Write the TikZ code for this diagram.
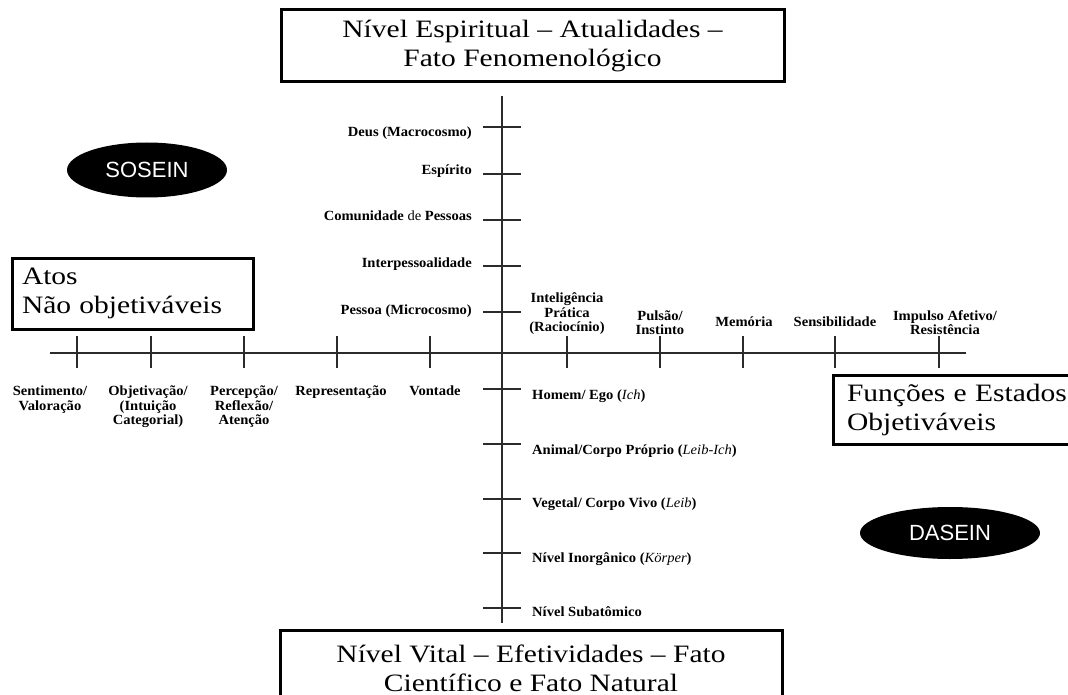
\documentclass[tikz,border=0pt]{standalone}
\usepackage{fontspec}
\setmainfont{Liberation Serif}
\newfontfamily\boxfont[FakeStretch=1.18]{Liberation Serif}
\newfontfamily\lblfont[FakeStretch=1.04]{Liberation Serif}
\newfontfamily\ovalfont{Liberation Sans}
\usepackage{tikz}
\usetikzlibrary{positioning,shapes.geometric}
\definecolor{axisgray}{HTML}{2B2B2B}
\newcommand{\IT}[1]{\textit{\mdseries #1}}

\begin{document}
\begin{tikzpicture}[x=1pt,y=-1pt,
  axis/.style={draw=axisgray, line width=1.3pt},
  lbl/.style={font=\lblfont\bfseries\fontsize{14}{14.5}\selectfont, align=center, inner sep=0pt},
  bigbox/.style={draw, line width=3pt, fill=white, inner sep=0pt,
    font=\boxfont\fontsize{25}{29}\selectfont},
  oval/.style={ellipse, fill=black, text=white, inner sep=0pt,
    font=\ovalfont\fontsize{22}{22}\selectfont}]

  \useasboundingbox (0,0) rectangle (1068,695);

  \newcommand\TickUp{17}
  \newcommand\TickLen{32}

  %% axes
  \coordinate (west) at (50,353);
  \coordinate (east) at (966,353);
  \coordinate (top) at (502,96);
  \coordinate (bottom) at (502,623);
  \draw[axis] (west) -- (east);
  \draw[axis] (top) -- (bottom);

  %% ticks on the horizontal axis
  \foreach \name/\px in {sent/77, obj/151, perc/244, repr/337, vont/430,
      intel/567, puls/660, mem/743, sens/835, imp/939}
    \coordinate (\name) at (\px,353);
  \foreach \name in {sent, obj, perc, repr, vont, intel, puls, mem, sens, imp}
    \draw[axis] (\name) ++(0,-\TickUp) -- ++(0,\TickLen);

  %% ticks on the vertical axis
  \foreach \name/\py in {deus/127, espirito/174, comun/220, inter/266, pessoa/312,
      homem/389, animal/444, vegetal/499, inorg/553, subat/608}
    \coordinate (\name) at (502,\py);
  \foreach \name in {deus, espirito, comun, inter, pessoa, homem, animal, vegetal, inorg, subat}
    \draw[axis] (\name) ++(-19,0) -- ++(38,0);

  %% acts (left, below the axis)
  \node[lbl, anchor=north] (sentL) at (50,386) {Sentimento/\\Valoração};
  \node[lbl, anchor=north] (objL) at (148,386) {Objetivação/\\(Intuição\\Categorial)};
  \node[lbl, anchor=north] (percL) at (244,386) {Percepção/\\Reflexão/\\Atenção};
  \node[lbl, anchor=north] (reprL) at (341,386) {Representação};
  \node[lbl, anchor=north] (vontL) at (435,386) {Vontade};

  %% functions (right, above the axis)
  \node[lbl, anchor=south] (intelL) at (567,335) {Inteligência\\Prática\\(Raciocínio)};
  \node[lbl, anchor=south] (pulsL) at (660,335) {Pulsão/\\Instinto};
  \node[lbl, anchor=base] (memL) at (744,326) {Memória};
  \node[lbl, anchor=base] (sensL) at (835,326) {Sensibilidade};
  \node[lbl, anchor=south] (impL) at (945,335) {Impulso Afetivo/\\Resistência};

  %% spiritual levels
  \node[lbl, anchor=base east] (deusL) at (472,137) {Deus (Macrocosmo)};
  \node[lbl, anchor=base east] (espiritoL) at (472,175) {Espírito};
  \node[lbl, anchor=base east] (comunL) at (472,221) {Comunidade {\mdseries de} Pessoas};
  \node[lbl, anchor=base east] (interL) at (472,267) {Interpessoalidade};
  \node[lbl, anchor=base east] (pessoaL) at (472,314) {Pessoa (Microcosmo)};

  %% vital levels
  \node[lbl, anchor=base west] (homemL) at (532,399) {Homem/ Ego (\IT{Ich})};
  \node[lbl, anchor=base west] (animalL) at (532,454) {Animal/Corpo Próprio (\IT{Leib-Ich})};
  \node[lbl, anchor=base west] (vegetalL) at (532,507) {Vegetal/ Corpo Vivo (\IT{Leib})};
  \node[lbl, anchor=base west] (inorgL) at (532,562) {Nível Inorgânico (\IT{Körper})};
  \node[lbl, anchor=base west] (subatL) at (532,616) {Nível Subatômico};

  %% boxes
  \node[bigbox, minimum width=503pt, minimum height=72pt, align=center]
    (espiritual) at (532.5,46) {Nível Espiritual – Atualidades –\\Fato Fenomenológico};
  \node[bigbox, minimum width=502pt, minimum height=76pt, align=center]
    (vital) at (531,668) {Nível Vital – Efetividades – Fato\\Científico e Fato Natural};
  \node[bigbox, text width=221pt, inner xsep=10pt, minimum height=71pt, align=left]
    (atos) at (132.5,293.5) {Atos\\Não objetiváveis};
  \node[bigbox, text width=234pt, inner xsep=14pt, minimum height=69pt, align=left]
    (funcoes) at (964,409.5) {Funções e Estados\\Objetiváveis};

  %% ovals
  \node[oval, minimum width=160pt, minimum height=55pt] (sosein) at (147,170) {SOSEIN};
  \node[oval, minimum width=180pt, minimum height=52pt] (dasein) at (950,533) {DASEIN};

\end{tikzpicture}
\end{document}
